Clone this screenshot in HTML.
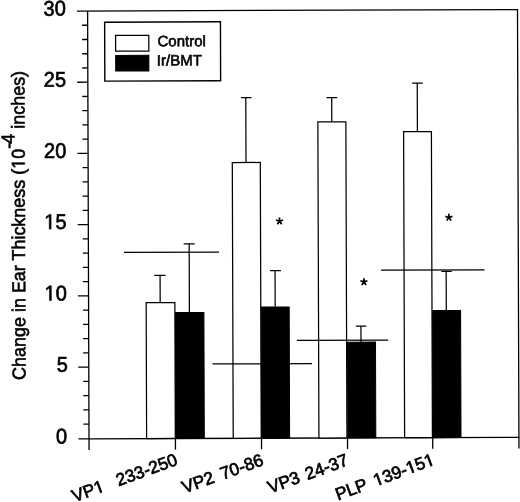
<!DOCTYPE html>
<html>
<head>
<meta charset="utf-8">
<style>
html,body{margin:0;padding:0;background:#fff;}
body{width:520px;height:502px;overflow:hidden;font-family:"Liberation Sans",sans-serif;}
.h{fill:none;stroke:none;}
svg{display:block;position:absolute;left:0;top:0;filter:grayscale(1);}
text{font-family:"Liberation Sans",sans-serif;fill:#000;stroke:#000;stroke-width:0.6px;}
.ln{stroke:#000;stroke-width:1.25;fill:none;}
.ax{stroke:#000;stroke-width:1.3;fill:none;}
.wb{fill:#fff;stroke:#000;stroke-width:1.25;}
.bb{fill:#000;stroke:#000;stroke-width:1;}
.yl{font-size:20px;text-anchor:end;stroke-width:0.65px;}
.xl{font-size:17.4px;text-anchor:end;word-spacing:2px;stroke-width:0.7px;}
</style>
</head>
<body>
<svg width="520" height="502" viewBox="0 0 520 502">
<rect x="0" y="0" width="520" height="502" fill="#fff"/>

<g transform="rotate(-0.19 87.6 11) translate(0 11) scale(1 1.003) translate(0 -11)">
<!-- frame -->
<path class="ax" d="M77 11H517.5V437.5H87.6M87.6 11V448.6"/>

<!-- y major ticks -->
<path class="ax" d="M77 82H87.6M77 153H87.6M77 224H87.6M77 295H87.6M77 366H87.6M77 437.5H87.6"/>
<!-- y minor ticks -->
<path class="ax" d="M82 25.2H87.6M82 39.4H87.6M82 53.6H87.6M82 67.8H87.6
M82 96.2H87.6M82 110.4H87.6M82 124.6H87.6M82 138.8H87.6
M82 167.2H87.6M82 181.4H87.6M82 195.6H87.6M82 209.8H87.6
M82 238.2H87.6M82 252.4H87.6M82 266.6H87.6M82 280.8H87.6
M82 309.2H87.6M82 323.4H87.6M82 337.6H87.6M82 351.8H87.6
M82 380.2H87.6M82 394.4H87.6M82 408.6H87.6M82 422.8H87.6"/>
<!-- x ticks -->
<path class="ax" d="M174 437.5V448.6M260.1 437.5V448.6M346.1 437.5V448.6M431.3 437.5V448.6M517.5 437.5V448.6"/>

<!-- y labels -->
<text class="yl" transform="translate(65.8 15.5) scale(1 1.06)">30</text>
<text class="yl" transform="translate(65.8 86.5) scale(1 1.06)">25</text>
<text class="yl" transform="translate(65.8 157.5) scale(1 1.06)">20</text>
<text class="yl" transform="translate(65.8 228.3) scale(1 1.06)"><tspan class="h">1</tspan>5</text>
<text class="yl" transform="translate(65.8 299.5) scale(1 1.06)"><tspan class="h">1</tspan>0</text>
<text class="yl" transform="translate(66.8 370.5) scale(1 1.06)">5</text>
<text class="yl" transform="translate(65.8 442.0) scale(1 1.06)">0</text>

<!-- y title -->
<text transform="translate(24.2 378.6) rotate(-90) scale(1 1.042)" font-size="17.9px">Change in Ear Thickness (<tspan class="h">1</tspan>0<tspan dy="-9.84">-</tspan><tspan dx="-0.9">4</tspan><tspan x="250.4" dy="9.84">inches)</tspan></text>

<!-- legend -->
<rect x="104.6" y="22.2" width="115.8" height="58.8" fill="#fff" stroke="#000" stroke-width="1.4"/>
<rect x="115.5" y="35.5" width="33.2" height="15.7" class="wb"/>
<rect x="115.5" y="55.4" width="33.2" height="15.5" class="bb"/>
<text x="157.4" y="46.5" font-size="15px">Control</text>
<text x="156.7" y="65.7" font-size="15px">Ir/BMT</text>

<!-- Group 1 -->
<g transform="translate(-1.6 0)">
<path class="ln" d="M160.8 302.5V274.8M155 274.8H166.3"/>
<path class="ln" d="M190 311.8V243.6M184.5 243.6H195.6"/>
<rect class="wb" x="146.8" y="302" width="28.7" height="135.5"/>
<rect class="bb" x="176" y="312" width="28.5" height="125.5"/>
<path class="ln" d="M124.7 251.8H219.8"/>
</g>

<!-- Group 2 -->
<g transform="translate(-0.8 0)">
<path class="ln" d="M246.3 162.6V97.9M241.5 97.9H252"/>
<path class="ln" d="M275 306.5V270.5M270 270.5H280.8"/>
<rect class="wb" x="232.6" y="162.6" width="28" height="274.9"/>
<rect class="bb" x="261" y="306.8" width="28" height="130.7"/>
<path class="ln" d="M212.1 363.3H311.6"/>
</g>

<!-- Group 3 -->
<path class="ln" d="M331.4 122.3V98.1M326.2 98.1H336.9"/>
<path class="ln" d="M359.9 342V326.1M354.8 326.1H365.3"/>
<rect class="wb" x="317.5" y="122.3" width="28" height="315.2"/>
<rect class="bb" x="346.4" y="342" width="28" height="95.5"/>
<path class="ln" d="M295.8 340.1H387.1"/>

<!-- Group 4 -->
<path class="ln" d="M417 132.3V83.9M411.9 83.9H422.6"/>
<path class="ln" d="M445.3 310.6V271.8M440.4 271.8H450.9"/>
<rect class="wb" x="403.2" y="132.3" width="27.8" height="305.2"/>
<rect class="bb" x="431.6" y="310.8" width="28" height="126.7"/>
<path class="ln" d="M380.1 270.4H483.7"/>

<!-- asterisks -->
<path transform="translate(278.8 221.2)" d="M0 0.2V-3.7M0 0L3.5 -1.15M0 0L-3.5 -1.15M0 0L2.2 3M0 0L-2.2 3" stroke="#000" stroke-width="1.7" fill="none"/>
<path transform="translate(363 282)" d="M0 0.2V-3.7M0 0L3.5 -1.15M0 0L-3.5 -1.15M0 0L2.2 3M0 0L-2.2 3" stroke="#000" stroke-width="1.7" fill="none"/>
<path transform="translate(448.2 218.1)" d="M0 0.2V-3.7M0 0L3.5 -1.15M0 0L-3.5 -1.15M0 0L2.2 3M0 0L-2.2 3" stroke="#000" stroke-width="1.7" fill="none"/>

<!-- x labels -->
<text class="xl" transform="translate(177.1 463.4) rotate(-19.7)">VP<tspan class="h">1</tspan> <tspan dx="7.2">233-250</tspan></text>
<text class="xl" transform="translate(263.1 463.9) rotate(-19.5)">VP2 <tspan dx="0.9">70-86</tspan></text>
<text class="xl" transform="translate(347.9 464.3) rotate(-19.7)">VP3 24-37</text>
<text class="xl" transform="translate(434.2 464.1) rotate(-20.1)">PLP <tspan dx="1.1"><tspan class="h">1</tspan>39-<tspan class="h">1</tspan>5<tspan class="h">1</tspan></tspan></text>
</g>
<!-- footless 1 glyphs -->
<path transform="matrix(0.99999 -0.00332 0.00353 1.06317 66.523 229.023) translate(-22.255 0.000) scale(0.009766 -0.009766)" d="M515 0V1237L197 1010V1180L530 1409H696V0Z" fill="#000" stroke="#000" stroke-width="66.6"/>
<path transform="matrix(0.99999 -0.00332 0.00353 1.06317 66.760 300.436) translate(-22.255 0.000) scale(0.009766 -0.009766)" d="M515 0V1237L197 1010V1180L530 1409H696V0Z" fill="#000" stroke="#000" stroke-width="66.6"/>
<path transform="matrix(-0.00333 -1.00299 1.04199 -0.00346 25.423 379.911) translate(210.490 0.000) scale(0.008740 -0.008740)" d="M515 0V1237L197 1010V1180L530 1409H696V0Z" fill="#000" stroke="#000" stroke-width="68.6"/>
<path transform="matrix(0.94034 -0.34123 0.34022 0.94317 178.604 464.458) translate(-87.501 0.000) scale(0.008496 -0.008496)" d="M515 0V1237L197 1010V1180L530 1409H696V0Z" fill="#000" stroke="#000" stroke-width="82.4"/>
<path transform="matrix(0.93795 -0.34780 0.34678 0.94077 435.705 464.307) translate(-63.826 0.000) scale(0.008496 -0.008496)" d="M515 0V1237L197 1010V1180L530 1409H696V0Z" fill="#000" stroke="#000" stroke-width="82.4"/>
<path transform="matrix(0.93795 -0.34780 0.34678 0.94077 435.705 464.307) translate(-29.019 0.000) scale(0.008496 -0.008496)" d="M515 0V1237L197 1010V1180L530 1409H696V0Z" fill="#000" stroke="#000" stroke-width="82.4"/>
<path transform="matrix(0.93795 -0.34780 0.34678 0.94077 435.705 464.307) translate(-9.673 0.000) scale(0.008496 -0.008496)" d="M515 0V1237L197 1010V1180L530 1409H696V0Z" fill="#000" stroke="#000" stroke-width="82.4"/>
</svg>
</body>
</html>
